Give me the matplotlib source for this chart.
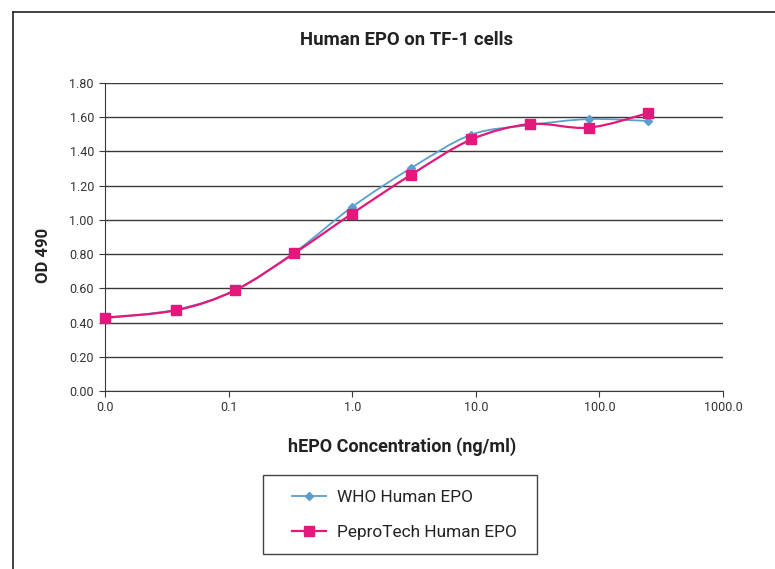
import numpy as np
import matplotlib
matplotlib.use("Agg")
import matplotlib.pyplot as plt
from matplotlib.path import Path
from matplotlib.patches import PathPatch, Rectangle
from matplotlib.lines import Line2D

plt.rcParams['font.family'] = ['Roboto', 'DejaVu Sans']

# concentrations (ng/ml), 3-fold dilution series
conc = [0.01, 0.0377, 0.113, 0.34, 1.0, 3.0, 9.2, 27.5, 82.0, 248.0]
who_od = [0.425, 0.476, 0.589, 0.809, 1.076, 1.303, 1.498, 1.554, 1.589, 1.578]
pepro_od = [0.429, 0.472, 0.589, 0.805, 1.037, 1.264, 1.470, 1.560, 1.539, 1.624]

yticks = [0.0, 0.2, 0.4, 0.6, 0.8, 1.0, 1.2, 1.4, 1.6, 1.8]
xticks = [0.01, 0.1, 1, 10, 100, 1000]
xtick_labels = ["0.0", "0.1", "1.0", "10.0", "100.0", "1000.0"]

blue = "#5b9fcf"
pink = "#e2187a"


def smooth_path(xs, ys):
    # excel-style smoothed line: cubic bezier segments in log-x space
    lx = np.log10(xs)
    y = np.asarray(ys, dtype=float)
    n = len(lx)
    verts = [(xs[0], y[0])]
    codes = [Path.MOVETO]
    for i in range(n - 1):
        p0 = (lx[max(i - 1, 0)], y[max(i - 1, 0)])
        p1 = (lx[i], y[i])
        p2 = (lx[i + 1], y[i + 1])
        p3 = (lx[min(i + 2, n - 1)], y[min(i + 2, n - 1)])
        c1 = (p1[0] + (p2[0] - p0[0]) / 6, p1[1] + (p2[1] - p0[1]) / 6)
        c2 = (p2[0] - (p3[0] - p1[0]) / 6, p2[1] - (p3[1] - p1[1]) / 6)
        verts += [(10 ** c1[0], c1[1]), (10 ** c2[0], c2[1]), (10 ** p2[0], p2[1])]
        codes += [Path.CURVE4] * 3
    return Path(verts, codes)


fig = plt.figure(figsize=(7.75, 5.69), dpi=100)
ax = fig.add_axes([105 / 775, 1 - 391 / 569, 618 / 775, 308 / 569])

ax.set_xscale("log")
ax.set_xlim(0.01, 1000)
ax.set_ylim(0, 1.8)

for xs, ys, col in [(conc, who_od, blue), (conc, pepro_od, pink)]:
    ax.add_patch(PathPatch(smooth_path(xs, ys), fill=False, edgecolor=col,
                           lw=1.6 if col == pink else 1.3, zorder=3))

ax.plot(conc, who_od, linestyle="none", marker="D", ms=4.5, color=blue, zorder=4, clip_on=False)
ax.plot(conc, pepro_od, linestyle="none", marker="s", ms=7, color=pink, zorder=5, clip_on=False)

ax.set_yticks(yticks)
ax.set_yticklabels(["%.2f" % v for v in yticks])
ax.set_xticks(xticks)
ax.set_xticklabels(xtick_labels)
ax.minorticks_off()
ax.yaxis.grid(True, color="#3a3a3a", lw=1.0)
ax.set_axisbelow(True)
for s in ["top", "right"]:
    ax.spines[s].set_visible(False)
for s in ["left", "bottom"]:
    ax.spines[s].set_color("#3a3a3a")
ax.tick_params(axis="both", colors="#3a3a3a", labelsize=9, length=4, labelcolor="#333333")
ax.tick_params(axis="y", pad=4)

fig.text(407 / 775, 1 - 40 / 569, "Human EPO on TF-1 cells", ha="center", va="center",
         fontsize=13.3, fontweight="bold", color="#222222")
fig.text(43 / 775, 1 - 255 / 569, "OD 490", rotation=90, ha="center", va="center",
         fontsize=12, fontweight="bold", color="#222222")
fig.text(402 / 775, 1 - 447 / 569, "hEPO Concentration (ng/ml)", ha="center", va="center",
         fontsize=13, fontweight="bold", color="#222222")

handles = [Line2D([], [], color=blue, marker="D", ms=4.5, lw=1.3),
           Line2D([], [], color=pink, marker="s", ms=7, lw=1.6)]
leg = fig.legend(handles, ["WHO Human EPO", "PeproTech Human EPO"],
                 loc="center left", bbox_to_anchor=(292 / 775, 1 - 515 / 569),
                 fontsize=12.4, frameon=False, borderpad=0, labelspacing=1.15,
                 handlelength=2.0, handletextpad=0.6, borderaxespad=0)
for t in leg.get_texts():
    t.set_color("#222222")

# legend box
fig.add_artist(Rectangle((263 / 775, 1 - 554 / 569), 274 / 775, 79 / 569,
                         transform=fig.transFigure, fill=False,
                         edgecolor="#444444", lw=1.0))

# outer chart frame (only top and left edges visible)
fig.add_artist(Line2D([13 / 775, 13 / 775], [0, 1 - 12 / 569], color="#222222", lw=1.2))
fig.add_artist(Line2D([13 / 775, 1], [1 - 12 / 569, 1 - 12 / 569], color="#222222", lw=1.2))

fig.savefig("out.png", dpi=100)
